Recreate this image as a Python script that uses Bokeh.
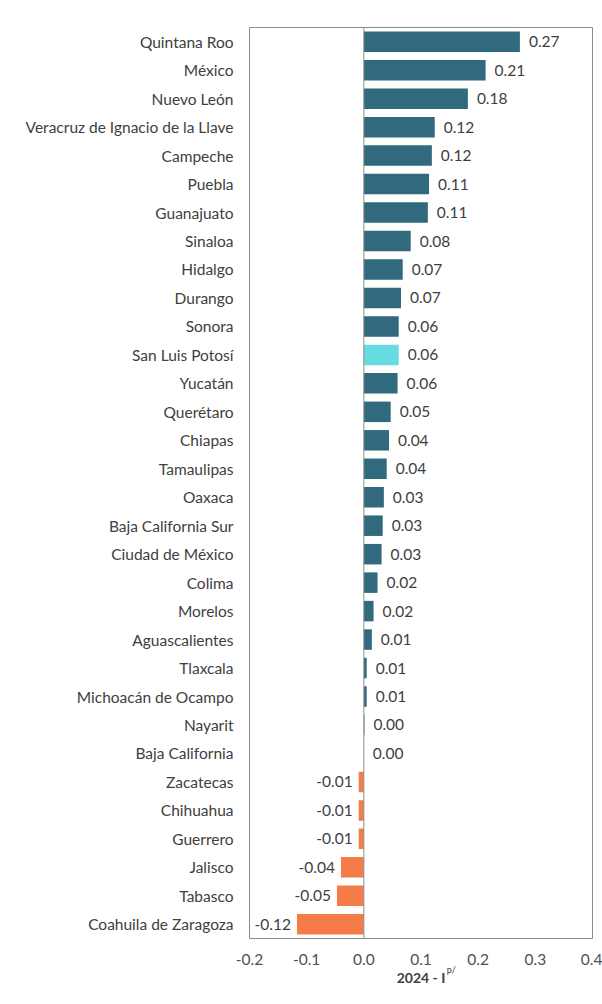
from bokeh.plotting import figure
from bokeh.models import (ColumnDataSource, FactorRange, Range1d, FixedTicker, Span,
                          CustomJSTickFormatter, LinearAxis)
from bokeh.core.properties import value
from bokeh.embed import file_html
from bokeh.resources import INLINE

states = [
    "Quintana Roo", "México", "Nuevo León", "Veracruz de Ignacio de la Llave",
    "Campeche", "Puebla", "Guanajuato", "Sinaloa", "Hidalgo", "Durango",
    "Sonora", "San Luis Potosí", "Yucatán", "Querétaro", "Chiapas",
    "Tamaulipas", "Oaxaca", "Baja California Sur", "Ciudad de México",
    "Colima", "Morelos", "Aguascalientes", "Tlaxcala", "Michoacán de Ocampo",
    "Nayarit", "Baja California", "Zacatecas", "Chihuahua", "Guerrero",
    "Jalisco", "Tabasco", "Coahuila de Zaragoza",
]
values = [
    0.273, 0.213, 0.182, 0.124, 0.119, 0.114, 0.112, 0.082, 0.068, 0.065,
    0.061, 0.061, 0.059, 0.047, 0.044, 0.040, 0.035, 0.033, 0.031,
    0.024, 0.017, 0.014, 0.005, 0.005, 0.001, 0.000, -0.009, -0.009, -0.009,
    -0.040, -0.047, -0.117,
]
value_labels = [
    "0.27", "0.21", "0.18", "0.12", "0.12", "0.11", "0.11", "0.08", "0.07", "0.07",
    "0.06", "0.06", "0.06", "0.05", "0.04", "0.04", "0.03", "0.03", "0.03",
    "0.02", "0.02", "0.01", "0.01", "0.01", "0.00", "0.00", "-0.01", "-0.01", "-0.01",
    "-0.04", "-0.05", "-0.12",
]
highlight = "San Luis Potosí"
x_ticks = [-0.2, -0.1, 0.0, 0.1, 0.2, 0.3, 0.4]
x_title = "2024 - I"
x_title_sup = "p/"

TEAL = "#31697e"
CYAN = "#66dbe2"
ORANGE = "#f47c48"
FONT = "Lato"
TXT = "#404040"
FS = "15.5px"

colors = []
aligns = []
offsets = []
for s, v in zip(states, values):
    if s == highlight:
        colors.append(CYAN)
    elif v < 0:
        colors.append(ORANGE)
    else:
        colors.append(TEAL)
    if v < 0:
        aligns.append("right")
        offsets.append(-6)
    else:
        aligns.append("left")
        offsets.append(9)

src = ColumnDataSource(dict(state=states, val=values, lab=value_labels,
                            color=colors, align=aligns, off=offsets))

p = figure(
    width=602, height=1004,
    y_range=FactorRange(factors=list(reversed(states))),
    x_range=Range1d(-0.2, 0.4),
    output_backend="svg", toolbar_location=None,
    min_border_left=249, min_border_right=10, min_border_top=27, min_border_bottom=66,
)
p.background_fill_color = "white"
p.border_fill_color = "white"
p.outline_line_color = "#8c8c8c"
p.outline_line_width = 1
p.xgrid.visible = False
p.ygrid.visible = False

p.hbar(y="state", right="val", left=0, height=0.72, color="color", source=src, line_color=None)

p.add_layout(Span(location=0, dimension="height", line_color="#8c8c8c", line_width=1))

p.text(x="val", y="state", text="lab", source=src, text_align="align", x_offset="off",
       text_baseline="middle", text_font=value(FONT), text_font_size=FS, text_color=TXT)

xa = p.xaxis[0]
xa.ticker = FixedTicker(ticks=x_ticks)
xa.formatter = CustomJSTickFormatter(code="return tick.toFixed(1);")
xa.axis_line_color = None
xa.major_tick_line_color = None
xa.minor_tick_line_color = None
xa.major_tick_out = 0
xa.major_tick_in = 0
xa.major_label_standoff = 15
xa.major_label_text_font = FONT
xa.major_label_text_font_size = FS
xa.major_label_text_color = "#505050"

# second axis carrying the superscript and the title
xb = LinearAxis(
    ticker=FixedTicker(ticks=[0.153]),
    formatter=CustomJSTickFormatter(code="return 'p/';"),
    axis_line_color=None, major_tick_line_color=None, minor_tick_line_color=None,
    major_tick_out=0, major_tick_in=0,
    major_label_standoff=-4,
    major_label_text_font=FONT, major_label_text_font_size="9px",
    major_label_text_color=TXT,
    axis_label=x_title, axis_label_standoff=-9,
    axis_label_text_font=FONT, axis_label_text_font_size="14px",
    axis_label_text_font_style="bold", axis_label_text_color=TXT,
)
p.add_layout(xb, "below")

ya = p.yaxis[0]
ya.axis_line_color = None
ya.major_tick_line_color = None
ya.minor_tick_line_color = None
ya.major_tick_out = 0
ya.major_label_standoff = 16
ya.major_label_text_font = FONT
ya.major_label_text_font_size = FS
ya.major_label_text_color = TXT

open("out.html", "w").write(file_html(p, INLINE))
